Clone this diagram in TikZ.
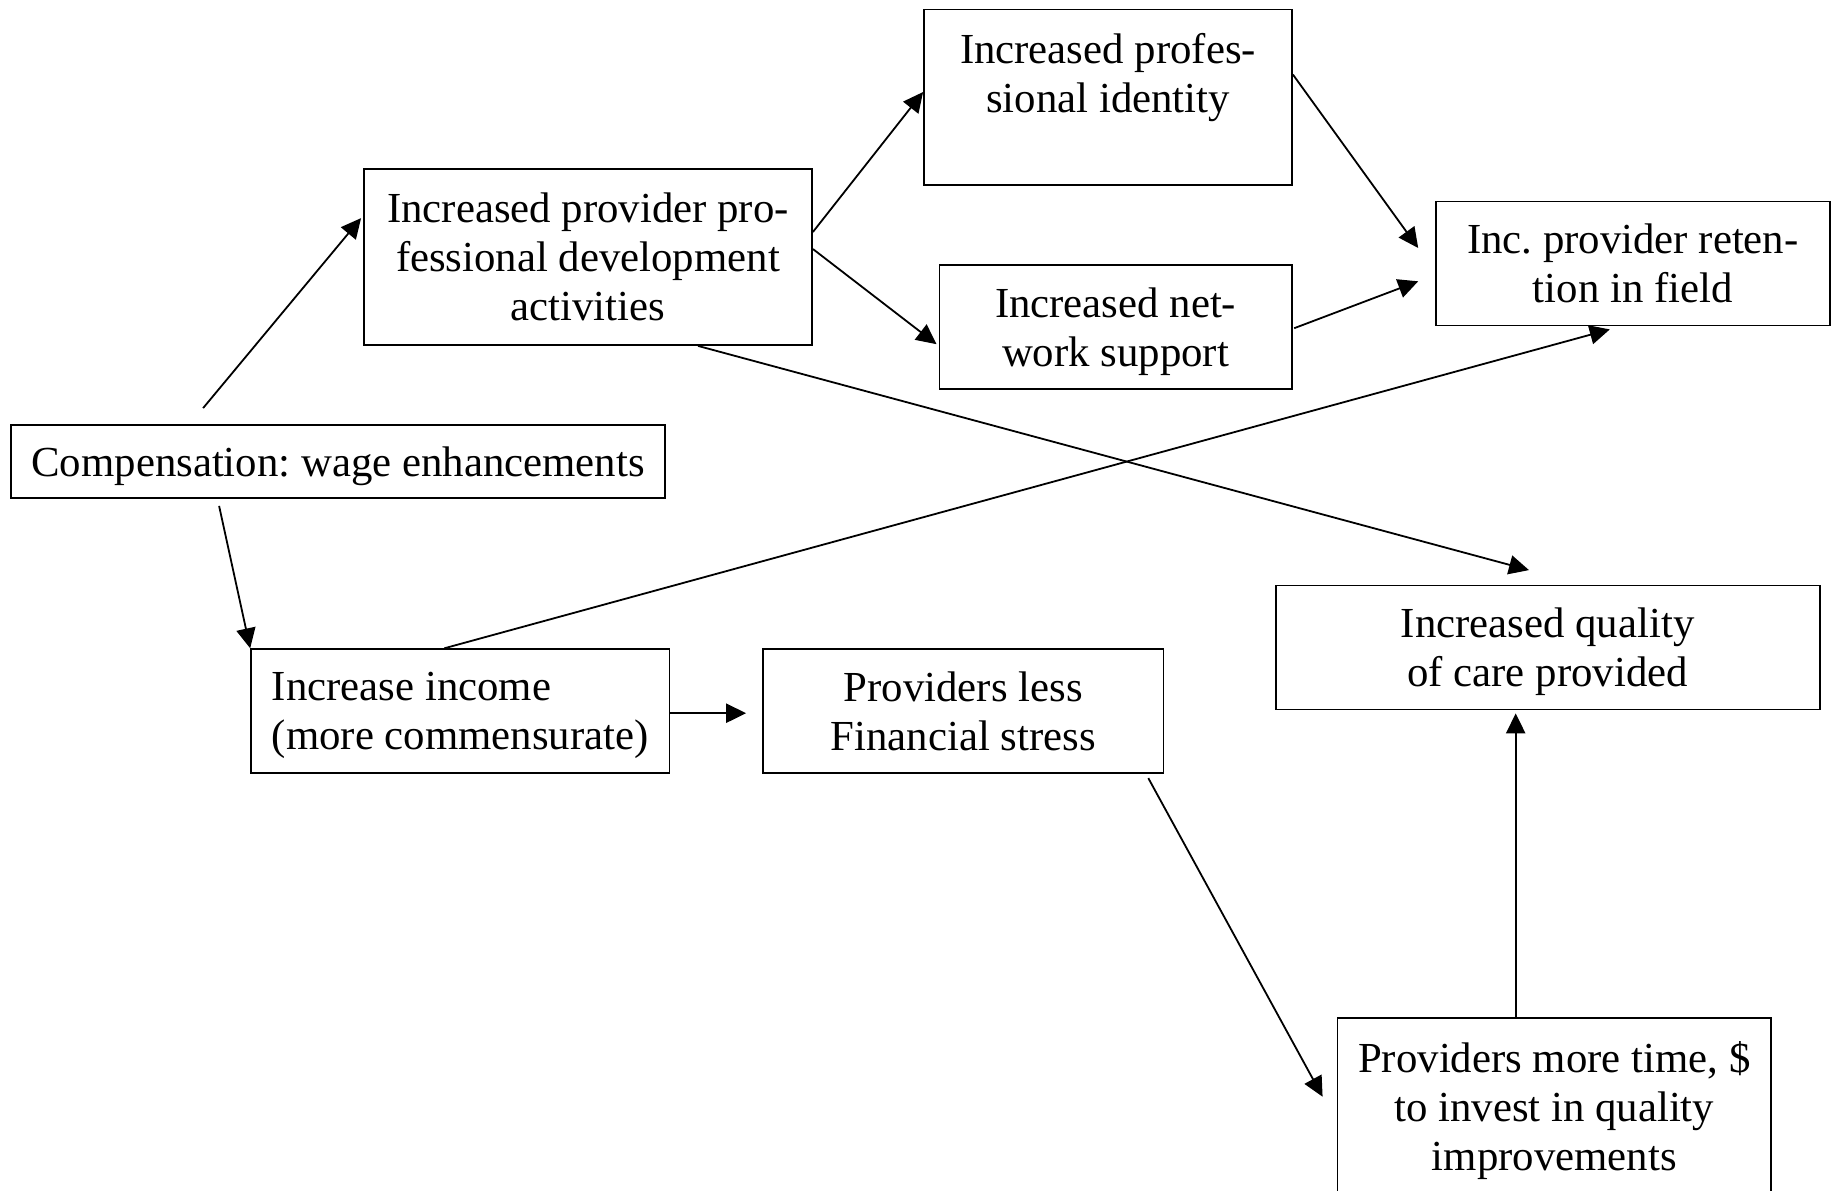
\documentclass[tikz,border=0pt]{standalone}
\usepackage{fontspec}
\setmainfont{Liberation Serif}
\usetikzlibrary{arrows.meta}
\frenchspacing

\tikzset{
  box/.style={draw, line width=0.45pt, align=center, inner sep=0pt, text depth=0pt,
    font=\fontsize{10.7}{12.25}\selectfont},
  lnk/.style={line width=0.45pt, -{Triangle[length=5pt,width=4.8pt]}},
}

\begin{document}
\begin{tikzpicture}[x=0.25pt,y=-0.25pt]
  \useasboundingbox (0,0) rectangle (1835,1191);
  \clip (0,0) rectangle (1835,1191);

  %Boxes
  \node[box, minimum width=163.5pt, minimum height=18.25pt] (comp) at (338,461.5) {Compensation: wage enhancements};
  \node[box, minimum width=112pt, minimum height=44pt] (dev) at (588,257) {Increased provider pro-\\fessional development\\activities};
  \node[box, minimum width=92pt, minimum height=43.8pt] (ident) at (1108,97) {Increased profes-\\sional identity\\ \mbox{}};
  \node[box, minimum width=88.1pt, minimum height=31pt] (net) at (1115.6,327.2) {Increased net-\\work support};
  \node[box, minimum width=98.6pt, minimum height=31pt] (ret) at (1632.8,263.5) {Inc. provider reten-\\tion in field};
  \node[box, align=left, minimum width=104.6pt, minimum height=31pt] (income) at (460.3,711.2) {Increase income\\(more commensurate)};
  \node[box, minimum width=100.1pt, minimum height=31pt] (stress) at (963.2,711.2) {Providers less\\Financial stress};
  \node[box, minimum width=136pt, minimum height=31pt] (quality) at (1547.6,647.5) {Increased quality\\of care provided};
  \node[box, minimum width=108.4pt, minimum height=44pt] (invest) at (1554.3,1105.7) {Providers more time, \$\\to invest in quality\\improvements};

  %Arrows
  \draw[lnk] ([shift={(193,-16)}]comp.north west) -- ([shift={(-2,50)}]dev.north west);
  \draw[lnk] ([shift={(209,7)}]comp.south west) -- (income.north west);
  \draw[lnk] ([shift={(0,-25)}]dev.east) -- ([shift={(0,-5)}]ident.west);
  \draw[lnk] ([shift={(0,-8)}]dev.east) -- ([shift={(-2,17)}]net.west);
  \draw[lnk] ([shift={(0,-22.5)}]ident.east) -- ([shift={(-16.5,-15.5)}]ret.west);
  \draw[lnk] ([shift={(1.5,1)}]net.east) -- ([shift={(-16.5,17.8)}]ret.west);
  \draw[lnk] ([shift={(-16,0)}]income.north) -- ([shift={(-23,3)}]ret.south);
  \draw[lnk] ([shift={(110,0)}]dev.south) -- ([shift={(-18.6,-14.5)}]quality.north);
  \draw[lnk] ([shift={(0,2)}]income.east) -- ([shift={(-16,2)}]stress.west);
  \draw[lnk] ([shift={(-16,4)}]stress.south east) -- ([shift={(-14,-9)}]invest.west);
  \draw[lnk] ([shift={(-38.6,0)}]invest.north) -- ([shift={(-31.9,3)}]quality.south);
\end{tikzpicture}
\end{document}
